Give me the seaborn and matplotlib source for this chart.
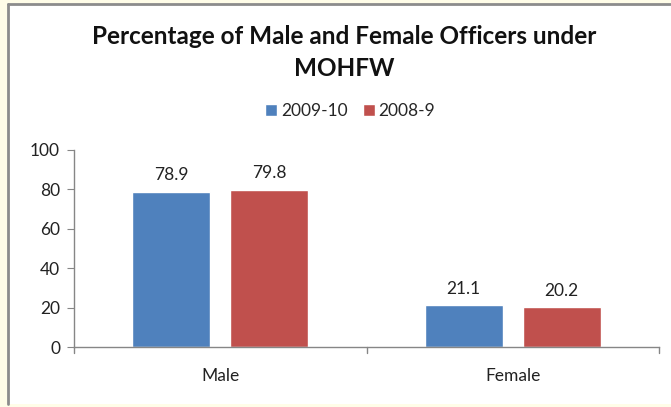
import seaborn as sns
import pandas as pd
from matplotlib import pyplot as plt
from matplotlib.patches import Rectangle
from matplotlib.lines import Line2D

sns.set_style('white')
plt.rcParams['font.family'] = ['Lato', 'DejaVu Sans']

genders = ['Male', 'Female']
years = ['2009-10', '2008-9']
val_2009 = [78.9, 21.1]
val_2008 = [79.8, 20.2]
colors = ['#4F81BD', '#C0504D']

df = pd.DataFrame({
    'Gender': genders * 2,
    'Year': [years[0]] * 2 + [years[1]] * 2,
    'Value': val_2009 + val_2008,
})

fig = plt.figure(figsize=(6.71, 4.07), dpi=100)
fig.patch.set_facecolor('#FFFDE8')

# white chart area with grey left/top frame
W, H = 671, 407
fig.patches.append(Rectangle((8 / W, 3 / H), 1 - 8 / W, 1 - 7 / H,
                             transform=fig.transFigure, facecolor='white',
                             edgecolor='none', zorder=-5))
fig.lines.append(Line2D([8 / W, 8 / W], [3 / H, 1 - 4 / H], transform=fig.transFigure,
                        color='#8C8C8C', lw=2, zorder=-4))
fig.lines.append(Line2D([8 / W, 1], [1 - 4 / H, 1 - 4 / H], transform=fig.transFigure,
                        color='#8C8C8C', lw=2, zorder=-4))

ax = fig.add_axes([74 / W, 1 - 347 / H, 585 / W, 197 / H])
ax.set_facecolor('white')

sns.barplot(data=df, x='Gender', y='Value', hue='Year', palette=colors,
            width=0.67, gap=0.2, ax=ax, legend=False, saturation=1)

for cont in ax.containers:
    ax.bar_label(cont, fmt='%.1f', padding=6, fontsize=12.5, color='#222222')

ax.set_ylim(0, 100)
ax.set_yticks(range(0, 101, 20))
ax.set_xlim(-0.5, 1.5)
ax.set_xlabel('')
ax.set_ylabel('')
ax.set_xticks([0, 1])
ax.set_xticklabels(genders, fontsize=12.5, color='#222222')
ax.tick_params(axis='x', length=0, pad=15)
ax.tick_params(axis='y', labelsize=12.5, labelcolor='#222222', length=5,
               color='#868686', left=True, pad=5)
for b in [-0.5, 0.5, 1.5]:
    ax.plot([b, b], [0, -3], color='#868686', lw=1, clip_on=False)

sns.despine(ax=ax, top=True, right=True)
for s in ['left', 'bottom']:
    ax.spines[s].set_color('#868686')
    ax.spines[s].set_linewidth(1)

fig.text(0.513, 1 - 37 / H, 'Percentage of Male and Female Officers under',
         ha='center', va='center', fontsize=17.5, fontweight='bold', color='#111111')
fig.text(0.513, 1 - 68 / H, 'MOHFW', ha='center', va='center',
         fontsize=17.5, fontweight='bold', color='#111111')

handles = [Rectangle((0, 0), 1, 1, facecolor=c) for c in colors]
fig.legend(handles, years, loc='center', bbox_to_anchor=(0.522, 1 - 111 / H),
           ncol=2, frameon=False, fontsize=12.5, handlelength=0.7, handleheight=0.7,
           handletextpad=0.2, columnspacing=0.9)

fig.savefig('out.png', dpi=100, facecolor=fig.get_facecolor())
